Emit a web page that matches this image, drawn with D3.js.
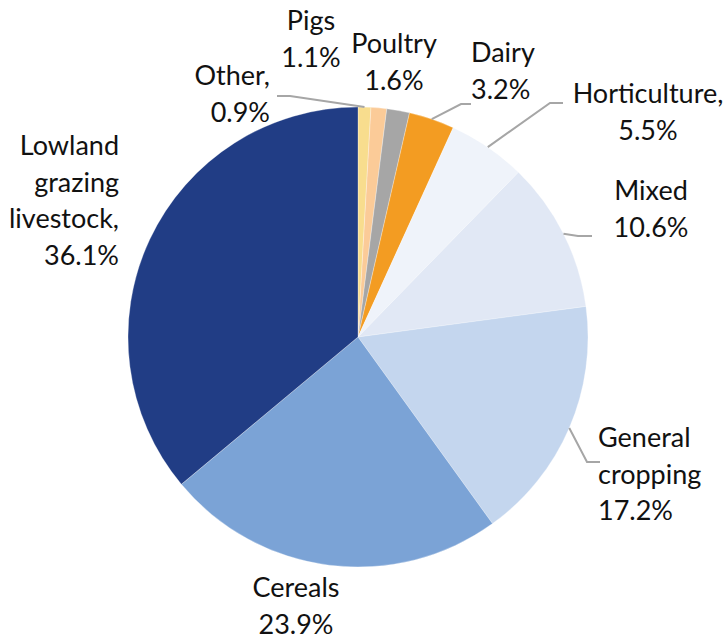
<!DOCTYPE html>
<html>
<head>
<meta charset="utf-8">
<script src="https://cdn.jsdelivr.net/npm/d3@7"></script>
<style>
  html, body { margin: 0; padding: 0; background: #fff; }
  svg text { font-family: "Lato", "Noto Sans", sans-serif; fill: #111; }
</style>
</head>
<body>
<svg id="chart" width="725" height="640"></svg>
<script>
// Farm types, clockwise from 12 o'clock
const categories = ["Other", "Pigs", "Poultry", "Dairy", "Horticulture", "Mixed",
                    "General cropping", "Cereals", "Lowland grazing livestock"];
const shares = [0.9, 1.1, 1.6, 3.2, 5.5, 10.6, 17.2, 23.9, 36.1];
const labelLines = [["Other,"], ["Pigs"], ["Poultry"], ["Dairy"], ["Horticulture,"], ["Mixed"],
                    ["General", "cropping"], ["Cereals"], ["Lowland", "grazing", "livestock,"]];
const sliceColors = ["#F8DD8E", "#FBCB98", "#A6A6A6", "#F39C22", "#EFF3FA", "#E1E8F5",
                     "#C4D6EE", "#7BA3D6", "#213D85"];

// Label placement: anchor point, alignment and optional leader elbow/end
const labelLayout = {
  "Other":                     { x: 270, y: 85,  anchor: "end",    leader: [[290, 96], [277, 96]] },
  "Pigs":                      { x: 311, y: 30,  anchor: "middle" },
  "Poultry":                   { x: 394, y: 53,  anchor: "middle" },
  "Dairy":                     { x: 471, y: 62,  anchor: "start",  leader: [[461, 104], [471, 104]] },
  "Horticulture":              { x: 648, y: 103, anchor: "middle", leader: [[550, 103], [563, 103]] },
  "Mixed":                     { x: 651, y: 200, anchor: "middle", leader: [[578, 236], [592, 236]] },
  "General cropping":          { x: 598, y: 447, anchor: "start",  leader: [[587, 462], [600, 462]] },
  "Cereals":                   { x: 296, y: 597, anchor: "middle" },
  "Lowland grazing livestock": { x: 119, y: 155, anchor: "end" }
};

const cx = 358, cy = 337, radius = 230, lineGap = 36.5, fontSize = 27;

const svg = d3.select("#chart");
const g = svg.append("g").attr("transform", `translate(${cx},${cy})`);

const data = categories.map((c, i) => ({ name: c, value: shares[i], lines: labelLines[i], color: sliceColors[i] }));

const pie = d3.pie().value(d => d.value).sort(null);
const arc = d3.arc().innerRadius(0).outerRadius(radius);
const arcs = pie(data);

g.selectAll("path.slice")
  .data(arcs)
  .join("path")
  .attr("class", "slice")
  .attr("d", arc)
  .attr("fill", d => d.data.color)
  .attr("stroke", "#fff")
  .attr("stroke-width", 0.3);

// Leader lines start on the rim at each slice's mid-angle
const rimPoint = d => {
  const a = (d.startAngle + d.endAngle) / 2;
  return [cx + radius * Math.sin(a), cy - radius * Math.cos(a)];
};

const line = d3.line();
arcs.forEach(d => {
  const lay = labelLayout[d.data.name];
  if (lay.leader) {
    svg.append("path")
      .attr("d", line([rimPoint(d), ...lay.leader]))
      .attr("fill", "none")
      .attr("stroke", "#A6A6A6")
      .attr("stroke-width", 2);
  }
});

const fmt = d3.format(".1f");
arcs.forEach(d => {
  const lay = labelLayout[d.data.name];
  const rows = [...d.data.lines, fmt(d.data.value) + "%"];
  const t = svg.append("text")
    .attr("x", lay.x)
    .attr("y", lay.y)
    .attr("text-anchor", lay.anchor)
    .style("font-size", fontSize + "px");
  rows.forEach((r, i) => {
    t.append("tspan").attr("x", lay.x).attr("dy", i === 0 ? 0 : lineGap).text(r);
  });
});
</script>
</body>
</html>
